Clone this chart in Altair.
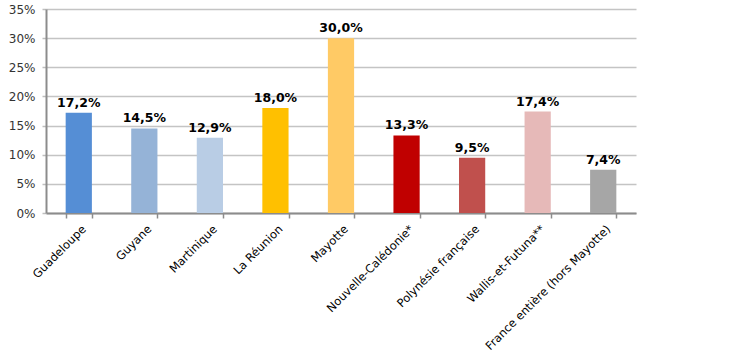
import altair as alt
import pandas as pd

categories = ["Guadeloupe", "Guyane", "Martinique", "La Réunion", "Mayotte",
              "Nouvelle-Calédonie*", "Polynésie française", "Wallis-et-Futuna**",
              "France entière (hors Mayotte)"]
values = [17.2, 14.5, 12.9, 18.0, 30.0, 13.3, 9.5, 17.4, 7.4]
colors = ["#558ED5", "#95B3D7", "#B9CDE5", "#FFC000", "#FFCA65",
          "#C00000", "#C0504D", "#E6B9B8", "#A6A6A6"]
y_ticks = [0, 0.05, 0.10, 0.15, 0.20, 0.25, 0.30, 0.35]

df = pd.DataFrame({
    "cat": categories,
    "val": [v / 100 for v in values],
    "label": [f"{v:.1f}%".replace(".", ",") for v in values],
})

FONT = "DejaVu Sans"

x = alt.X("cat:N", sort=categories, title=None,
          scale=alt.Scale(paddingInner=0.6, paddingOuter=0.3),
          axis=alt.Axis(labelAngle=-45, labelAlign="right", labelBaseline="top",
                        labelFont=FONT, labelFontSize=11.5, labelColor="#000000",
                        labelPadding=5, labelOffset=1, tickBand="extent",
                        tickColor="#8C8C8C", tickSize=5, tickWidth=1.5,
                        domainColor="#8C8C8C", domainWidth=2,
                        labelOverlap=False, labelLimit=300, grid=False))
y = alt.Y("val:Q", title=None,
          scale=alt.Scale(domain=[0, 0.35], nice=False, zero=True),
          axis=alt.Axis(values=y_ticks,
                        format=".0%", labelFont=FONT, labelFontSize=12,
                        labelColor="#333333", labelPadding=7,
                        labelOverlap=False, labelFlush=False,
                        tickColor="#BFBFBF", tickSize=4, tickWidth=1.5,
                        domainColor="#8C8C8C", domainWidth=2,
                        grid=True, gridColor="#C4C4C4", gridWidth=1.5))

base = alt.Chart(df).encode(x=x, y=y)

bars = base.mark_bar().encode(
    color=alt.Color("cat:N", sort=categories,
                    scale=alt.Scale(domain=categories, range=colors), legend=None),
)
texts = base.mark_text(font=FONT, fontSize=12.5, fontWeight="bold",
                       baseline="bottom", dy=-3, color="#000000").encode(
    text="label:N")

chart = alt.layer(bars, texts).properties(
    width=590, height=204,
    background="#FFFFFF",
    autosize=alt.AutoSizeParams(type="none"),
    padding={"left": 46, "top": 9, "right": 100, "bottom": 141},
).configure_view(strokeWidth=0, stroke="transparent")

chart.save("out.html", embed_options={"renderer": "svg", "actions": False})
